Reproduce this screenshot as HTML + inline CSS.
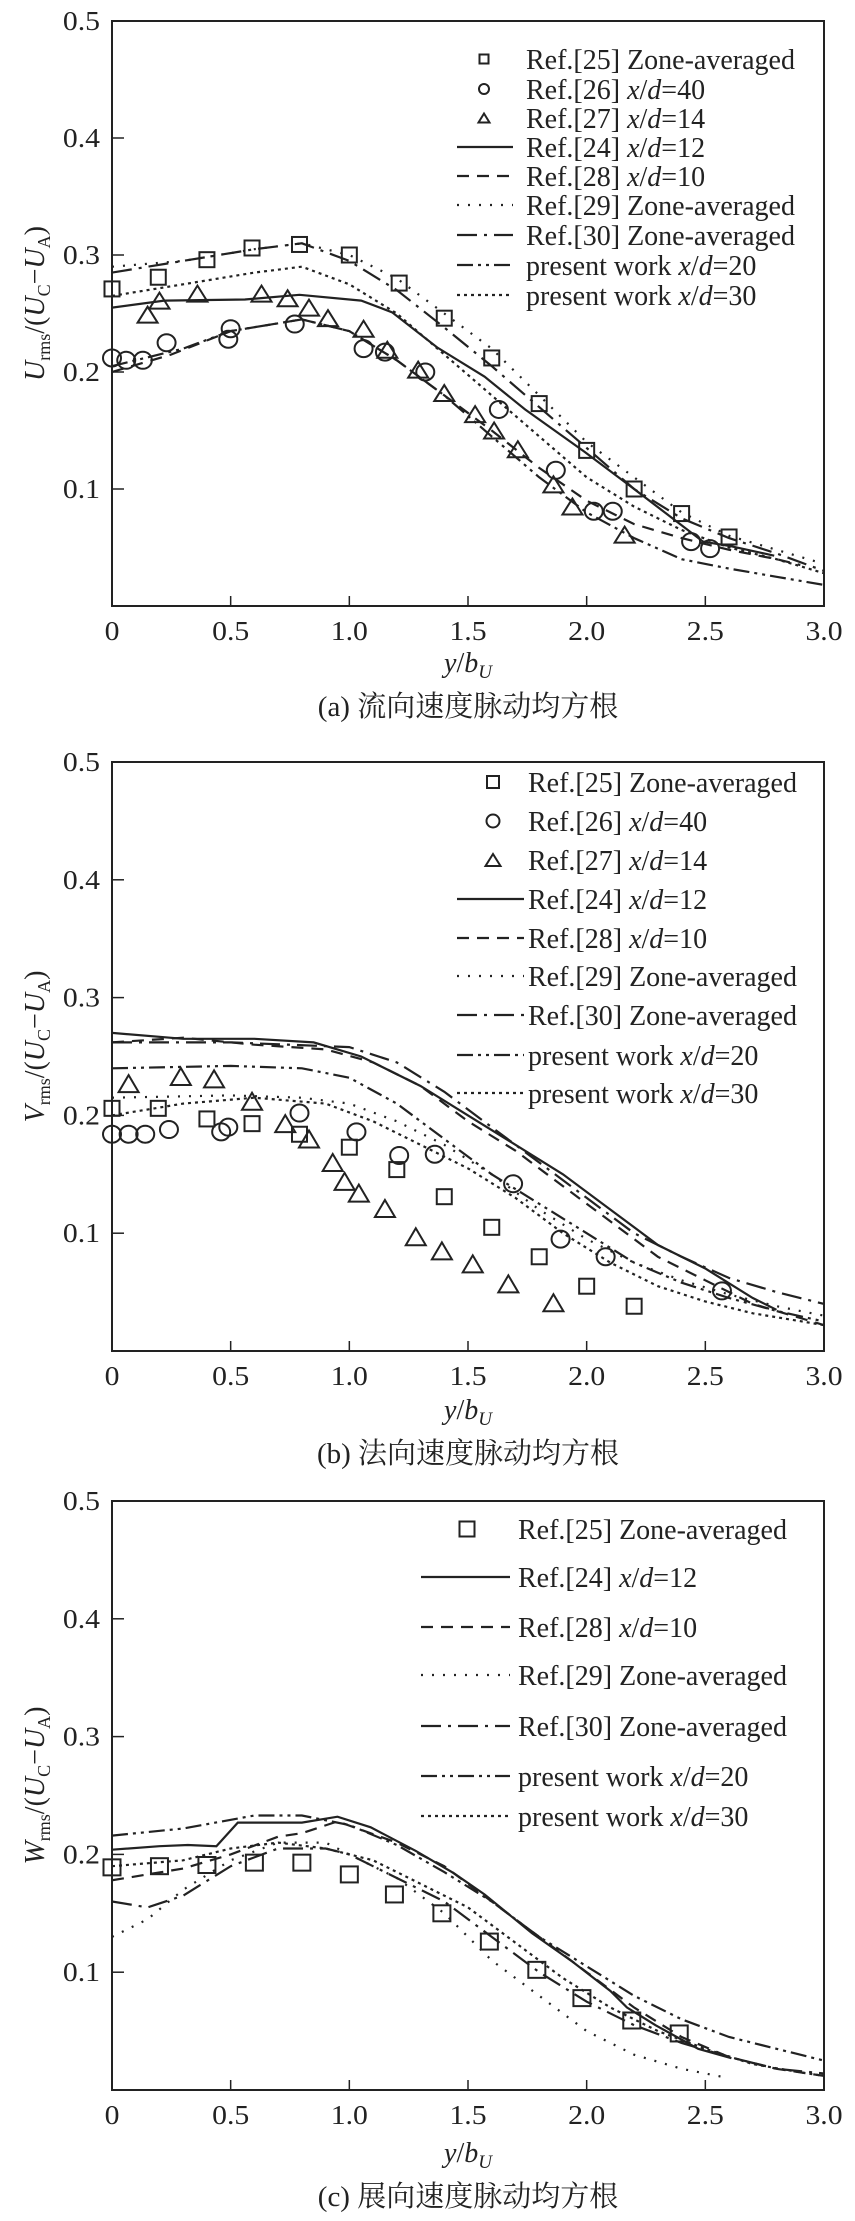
<!DOCTYPE html>
<html><head><meta charset="utf-8">
<style>
html,body{margin:0;padding:0;background:#fff;}
svg{display:block;font-family:"Liberation Serif","Noto Serif CJK SC","Noto Sans CJK SC",serif;}
</style></head>
<body>
<svg id="fig" xmlns="http://www.w3.org/2000/svg" width="855" height="2221" viewBox="0 0 855 2221"></svg>
<script>
// ---------- data: shared tick labels ----------
const xTickValues = [0, 0.5, 1.0, 1.5, 2.0, 2.5, 3.0];
const xTickLabels = ["0", "0.5", "1.0", "1.5", "2.0", "2.5", "3.0"];
const yTickValues = [0.1, 0.2, 0.3, 0.4, 0.5];
const yTickLabels = ["0.1", "0.2", "0.3", "0.4", "0.5"];

// ---------- panel (a) ----------
const aSqX = [0, 0.195, 0.40, 0.59, 0.79, 1.0, 1.21, 1.40, 1.60, 1.80, 2.0, 2.20, 2.40, 2.60];
const aSqY = [0.271, 0.281, 0.296, 0.306, 0.309, 0.300, 0.276, 0.246, 0.212, 0.173, 0.133, 0.100, 0.079, 0.059];
const aCiX = [0, 0.06, 0.13, 0.23, 0.49, 0.50, 0.77, 1.06, 1.15, 1.32, 1.63, 1.87, 2.03, 2.11, 2.44, 2.52];
const aCiY = [0.212, 0.210, 0.210, 0.225, 0.228, 0.237, 0.241, 0.220, 0.217, 0.200, 0.168, 0.116, 0.081, 0.081, 0.055, 0.049];
const aTrX = [0.15, 0.20, 0.36, 0.63, 0.74, 0.83, 0.91, 1.06, 1.16, 1.29, 1.40, 1.53, 1.61, 1.71, 1.86, 1.94, 2.16];
const aTrY = [0.249, 0.261, 0.267, 0.267, 0.263, 0.255, 0.246, 0.237, 0.219, 0.202, 0.182, 0.164, 0.150, 0.134, 0.104, 0.085, 0.061];
const aR24X = [0, 0.22, 0.56, 0.79, 1.05, 1.18, 1.37, 1.57, 1.74, 1.99, 2.2, 2.49, 2.61, 2.79];
const aR24Y = [0.255, 0.261, 0.262, 0.266, 0.261, 0.251, 0.221, 0.196, 0.168, 0.132, 0.100, 0.055, 0.051, 0.043];
const aR28X = [0, 0.25, 0.5, 0.8, 1.0, 1.2, 1.4, 1.6, 1.8, 2.0, 2.2, 2.4, 2.6, 2.8, 2.9];
const aR28Y = [0.200, 0.215, 0.235, 0.245, 0.235, 0.210, 0.180, 0.150, 0.118, 0.090, 0.070, 0.058, 0.048, 0.040, 0.035];
const aR29X = [0, 0.3, 0.6, 0.8, 1.0, 1.2, 1.4, 1.6, 1.8, 2.0, 2.2, 2.4, 2.6, 2.8, 3.0];
const aR29Y = [0.290, 0.295, 0.305, 0.310, 0.300, 0.280, 0.250, 0.220, 0.180, 0.140, 0.110, 0.080, 0.060, 0.048, 0.036];
const aR30X = [0, 0.3, 0.6, 0.8, 1.0, 1.2, 1.4, 1.6, 1.8, 2.0, 2.2, 2.4, 2.6, 2.8, 3.0];
const aR30Y = [0.285, 0.295, 0.305, 0.310, 0.295, 0.270, 0.238, 0.205, 0.170, 0.135, 0.100, 0.075, 0.058, 0.045, 0.030];
const aP20X = [0, 0.3, 0.5, 0.8, 1.0, 1.2, 1.4, 1.6, 1.8, 2.0, 2.2, 2.4, 2.6, 2.8, 3.0];
const aP20Y = [0.205, 0.220, 0.235, 0.245, 0.235, 0.210, 0.180, 0.145, 0.110, 0.080, 0.058, 0.040, 0.032, 0.025, 0.018];
const aP30X = [0, 0.3, 0.6, 0.8, 1.0, 1.2, 1.4, 1.6, 1.8, 2.0, 2.2, 2.4, 2.6, 2.8, 3.0];
const aP30Y = [0.265, 0.275, 0.285, 0.290, 0.275, 0.250, 0.215, 0.180, 0.145, 0.110, 0.085, 0.065, 0.050, 0.040, 0.028];

// ---------- panel (b) ----------
const bSqX = [0, 0.195, 0.40, 0.59, 0.79, 1.0, 1.2, 1.4, 1.6, 1.8, 2.0, 2.2];
const bSqY = [0.206, 0.206, 0.197, 0.193, 0.184, 0.173, 0.154, 0.131, 0.105, 0.080, 0.055, 0.038];
const bCiX = [0, 0.07, 0.14, 0.24, 0.46, 0.49, 0.79, 1.03, 1.21, 1.36, 1.69, 1.89, 2.08, 2.57];
const bCiY = [0.184, 0.184, 0.184, 0.188, 0.186, 0.190, 0.202, 0.186, 0.166, 0.167, 0.142, 0.095, 0.080, 0.051];
const bTrX = [0.07, 0.29, 0.43, 0.59, 0.73, 0.83, 0.93, 0.98, 1.04, 1.15, 1.28, 1.39, 1.52, 1.67, 1.86];
const bTrY = [0.227, 0.233, 0.231, 0.212, 0.193, 0.180, 0.160, 0.144, 0.134, 0.121, 0.097, 0.085, 0.074, 0.057, 0.041];
const bR24X = [0, 0.3, 0.6, 0.85, 1.05, 1.3, 1.5, 1.7, 1.9, 2.1, 2.3, 2.5, 2.7, 2.8];
const bR24Y = [0.270, 0.265, 0.265, 0.262, 0.250, 0.225, 0.200, 0.175, 0.150, 0.120, 0.090, 0.070, 0.045, 0.035];
const bR28X = [0, 0.3, 0.6, 0.9, 1.1, 1.3, 1.5, 1.7, 1.9, 2.1, 2.3, 2.5, 2.7, 2.9, 3.0];
const bR28Y = [0.262, 0.266, 0.260, 0.256, 0.245, 0.225, 0.195, 0.170, 0.140, 0.110, 0.080, 0.060, 0.040, 0.028, 0.022];
const bR29X = [0, 0.5, 0.8, 1.0, 1.2, 1.4, 1.6, 1.8, 2.0, 2.2, 2.4, 2.6, 2.8, 3.0];
const bR29Y = [0.215, 0.217, 0.215, 0.210, 0.195, 0.175, 0.150, 0.120, 0.095, 0.075, 0.060, 0.048, 0.038, 0.030];
const bR30X = [0, 0.5, 1.0, 1.2, 1.4, 1.6, 1.8, 2.0, 2.2, 2.4, 2.6, 2.8, 3.0];
const bR30Y = [0.262, 0.262, 0.258, 0.245, 0.220, 0.190, 0.160, 0.130, 0.100, 0.080, 0.062, 0.050, 0.040];
const bP20X = [0, 0.5, 0.8, 1.0, 1.2, 1.4, 1.6, 1.8, 2.0, 2.2, 2.4, 2.6, 2.8, 3.0];
const bP20Y = [0.240, 0.242, 0.240, 0.232, 0.210, 0.180, 0.150, 0.125, 0.100, 0.075, 0.058, 0.045, 0.034, 0.025];
const bP30X = [0, 0.3, 0.6, 0.9, 1.1, 1.3, 1.5, 1.7, 1.9, 2.1, 2.3, 2.5, 2.7, 3.0];
const bP30Y = [0.200, 0.210, 0.215, 0.210, 0.195, 0.175, 0.155, 0.130, 0.100, 0.075, 0.055, 0.042, 0.032, 0.022];

// ---------- panel (c) ----------
const cSqX = [0, 0.2, 0.4, 0.6, 0.8, 1.0, 1.19, 1.39, 1.59, 1.79, 1.98, 2.19, 2.39];
const cSqY = [0.189, 0.190, 0.191, 0.193, 0.193, 0.183, 0.166, 0.150, 0.126, 0.102, 0.078, 0.059, 0.048];
const cR24X = [0, 0.2, 0.32, 0.44, 0.53, 0.68, 0.8, 0.95, 1.09, 1.28, 1.44, 1.57, 1.77, 1.94, 2.1, 2.17, 2.29, 2.47, 2.61];
const cR24Y = [0.204, 0.207, 0.208, 0.207, 0.227, 0.227, 0.227, 0.232, 0.223, 0.203, 0.184, 0.166, 0.133, 0.109, 0.084, 0.070, 0.055, 0.035, 0.027];
const cR28X = [0, 0.3, 0.5, 0.7, 0.8, 0.95, 1.2, 1.4, 1.6, 1.8, 2.0, 2.2, 2.4, 2.6, 2.8, 3.0];
const cR28Y = [0.178, 0.188, 0.200, 0.215, 0.218, 0.228, 0.210, 0.190, 0.160, 0.130, 0.100, 0.070, 0.045, 0.028, 0.018, 0.012];
const cR29X = [0, 0.15, 0.3, 0.5, 0.7, 0.9, 1.0, 1.2, 1.4, 1.6, 1.8, 2.0, 2.2, 2.4, 2.6];
const cR29Y = [0.130, 0.145, 0.170, 0.195, 0.210, 0.210, 0.200, 0.180, 0.150, 0.110, 0.080, 0.050, 0.030, 0.018, 0.010];
const cR30X = [0, 0.15, 0.3, 0.5, 0.7, 0.9, 1.0, 1.2, 1.4, 1.6, 1.8, 2.0, 2.2, 2.4, 2.6, 2.8, 3.0];
const cR30Y = [0.160, 0.155, 0.165, 0.190, 0.205, 0.205, 0.200, 0.180, 0.160, 0.130, 0.100, 0.075, 0.055, 0.040, 0.028, 0.018, 0.014];
const cP20X = [0, 0.3, 0.6, 0.8, 1.0, 1.2, 1.4, 1.6, 1.8, 2.0, 2.2, 2.4, 2.6, 2.8, 3.0];
const cP20Y = [0.216, 0.222, 0.233, 0.233, 0.225, 0.208, 0.185, 0.160, 0.130, 0.105, 0.080, 0.060, 0.045, 0.035, 0.025];
const cP30X = [0, 0.3, 0.5, 0.7, 0.9, 1.1, 1.3, 1.5, 1.7, 1.9, 2.1, 2.3, 2.5, 2.7, 2.9, 3.0];
const cP30Y = [0.190, 0.195, 0.205, 0.210, 0.205, 0.195, 0.175, 0.155, 0.125, 0.095, 0.070, 0.050, 0.035, 0.022, 0.015, 0.012];

// ---------- rendering ----------
const NS = "http://www.w3.org/2000/svg";
const svg = document.getElementById("fig");
const LEFT = 112, RIGHT = 824, XMAX = 3.0, YMAX = 0.5;
const DASH = {solid: "", dashed: "12,8", dotted: "2,9", dashdot: "20,7,3,7", dashdotdot: "16,5,3,5,3,5", densedot: "3,4"};

function el(tag, attrs, parent) {
  const e = document.createElementNS(NS, tag);
  for (const k in attrs) e.setAttribute(k, attrs[k]);
  (parent || svg).appendChild(e);
  return e;
}
function xScale(v) { return LEFT + v / XMAX * (RIGHT - LEFT); }

function marker(g, type, cx, cy, w, h) {
  let m;
  if (type === "square") m = el("rect", {x: cx - w / 2, y: cy - h / 2, width: w, height: h, fill: "none", stroke: "#222", "stroke-width": 2}, g);
  else if (type === "circle") m = el("ellipse", {cx: cx, cy: cy, rx: w / 2, ry: h / 2, fill: "none", stroke: "#222", "stroke-width": 2}, g);
  else m = el("polygon", {points: (cx - w / 2) + "," + (cy + h / 2) + " " + (cx + w / 2) + "," + (cy + h / 2) + " " + cx + "," + (cy - h / 2), fill: "none", stroke: "#222", "stroke-width": 2}, g);
  return m;
}

function drawPanel(p) {
  const g = el("g", {});
  
  
  const yScale = v => p.bottom - v / YMAX * (p.bottom - p.top);
  const frame = el("rect", {x: LEFT, y: p.top, width: RIGHT - LEFT, height: p.bottom - p.top, fill: "none", stroke: "#222", "stroke-width": 2}, g);
  
  
  xTickValues.forEach((v, i) => {
    const x = xScale(v);
    if (i > 0 && i < xTickValues.length - 1) {
      const t = el("line", {x1: x, x2: x, y1: p.bottom, y2: p.bottom - 10, stroke: "#222", "stroke-width": 1.5}, g);
      
      
    }
    const lb = el("text", {transform: "translate(" + x + "," + (p.bottom + 34) + ") scale(1.1,1)", "font-size": 27, "text-anchor": "middle", fill: "#222"}, g);
    lb.textContent = xTickLabels[i];
    
    
  });
  yTickValues.forEach((v, i) => {
    const y = yScale(v);
    if (i < yTickValues.length - 1) {
      const t = el("line", {x1: LEFT, x2: LEFT + 12, y1: y, y2: y, stroke: "#222", "stroke-width": 1.5}, g);
      
      
    }
    const lb = el("text", {transform: "translate(100," + (y + 9) + ") scale(1.1,1)", "font-size": 27, "text-anchor": "end", fill: "#222"}, g);
    lb.textContent = yTickLabels[i];
    
    
  });
  const yc = (p.top + p.bottom) / 2 - 10;
  const yt = el("text", {transform: "translate(44," + yc + ") rotate(-90)", "font-size": 28, "text-anchor": "middle", fill: "#222"}, g);
  yt.innerHTML = '<tspan font-style="italic">' + p.sym + '</tspan><tspan font-size="18" dy="6">rms</tspan><tspan dy="-6">/(</tspan><tspan font-style="italic">U</tspan><tspan font-size="18" dy="6">C</tspan><tspan dy="-6">−</tspan><tspan font-style="italic">U</tspan><tspan font-size="18" dy="6">A</tspan><tspan dy="-6">)</tspan>';
  
  
  const xt = el("text", {transform: "translate(468," + (p.bottom + p.titleOff) + ")", "font-size": 28, "text-anchor": "middle", fill: "#222"}, g);
  xt.innerHTML = '<tspan font-style="italic">y</tspan>/<tspan font-style="italic">b</tspan><tspan font-style="italic" font-size="19" dy="6">U</tspan>';
  
  
  const cap = el("text", {x: 468, y: p.bottom + p.capOff, "font-size": 29, "text-anchor": "middle", fill: "#222"}, g);
  cap.textContent = p.caption;
  
  
  const clip = el("clipPath", {id: "clip-" + p.key}, g);
  el("rect", {x: LEFT, y: p.top, width: RIGHT - LEFT, height: p.bottom - p.top}, clip);
  p.lines.forEach(s => {
    const d = s.x.map((v, i) => (i ? "L" : "M") + xScale(v).toFixed(1) + "," + yScale(s.y[i]).toFixed(1)).join(" ");
    const path = el("path", {d: d, fill: "none", stroke: "#222", "stroke-width": 2.2, "stroke-dasharray": DASH[s.style], "clip-path": "url(#clip-" + p.key + ")"}, g);
    
    
  });
  p.points.forEach(s => {
    s.x.forEach((v, i) => {
      const m = marker(g, s.type, xScale(v), yScale(s.y[i]), s.w, s.h);
      
      
    });
  });
  p.legend.forEach((L, i) => {
    const y = p.legY[i];
    if (L.type) {
      const m = marker(g, L.type, p.legSym, y, L.w, L.h);
      
      
    } else {
      const ln = el("line", {x1: p.legL0, x2: p.legL1, y1: y, y2: y, stroke: "#222", "stroke-width": 2.2, "stroke-dasharray": DASH[L.style]}, g);
      
      
    }
    const t = el("text", {x: p.legText, y: y + 10, "font-size": 28, fill: "#222"}, g);
    t.innerHTML = L.label;
    
    
  });
}

const XD = function (n) { return 'Ref.[' + n[0] + '] <tspan font-style="italic">x</tspan>/<tspan font-style="italic">d</tspan>=' + n[1]; };
const PW = function (n) { return 'present work <tspan font-style="italic">x</tspan>/<tspan font-style="italic">d</tspan>=' + n; };

drawPanel({
  key: "a", top: 21, bottom: 606, titleOff: 66, capOff: 110, sym: "U", caption: "(a) 流向速度脉动均方根",
  lines: [
    {name: "ref24", style: "solid", x: aR24X, y: aR24Y},
    {name: "ref28", style: "dashed", x: aR28X, y: aR28Y},
    {name: "ref29", style: "dotted", x: aR29X, y: aR29Y},
    {name: "ref30", style: "dashdot", x: aR30X, y: aR30Y},
    {name: "present20", style: "dashdotdot", x: aP20X, y: aP20Y},
    {name: "present30", style: "densedot", x: aP30X, y: aP30Y}],
  points: [
    {name: "ref25", type: "square", x: aSqX, y: aSqY, w: 15, h: 15},
    {name: "ref26", type: "circle", x: aCiX, y: aCiY, w: 18, h: 17},
    {name: "ref27", type: "triangle", x: aTrX, y: aTrY, w: 20, h: 16}],
  legY: [59, 89, 118, 147, 176, 205, 235, 265, 295],
  legSym: 484, legL0: 457, legL1: 513, legText: 526,
  legend: [
    {type: "square", w: 9, h: 9, label: "Ref.[25] Zone-averaged"},
    {type: "circle", w: 10, h: 10, label: XD([26, 40])},
    {type: "triangle", w: 11, h: 9, label: XD([27, 14])},
    {style: "solid", label: XD([24, 12])},
    {style: "dashed", label: XD([28, 10])},
    {style: "dotted", label: "Ref.[29] Zone-averaged"},
    {style: "dashdot", label: "Ref.[30] Zone-averaged"},
    {style: "dashdotdot", label: PW(20)},
    {style: "densedot", label: PW(30)}]
});

drawPanel({
  key: "b", top: 762, bottom: 1351, titleOff: 68, capOff: 112, sym: "V", caption: "(b) 法向速度脉动均方根",
  lines: [
    {name: "ref24", style: "solid", x: bR24X, y: bR24Y},
    {name: "ref28", style: "dashed", x: bR28X, y: bR28Y},
    {name: "ref29", style: "dotted", x: bR29X, y: bR29Y},
    {name: "ref30", style: "dashdot", x: bR30X, y: bR30Y},
    {name: "present20", style: "dashdotdot", x: bP20X, y: bP20Y},
    {name: "present30", style: "densedot", x: bP30X, y: bP30Y}],
  points: [
    {name: "ref25", type: "square", x: bSqX, y: bSqY, w: 15, h: 15},
    {name: "ref26", type: "circle", x: bCiX, y: bCiY, w: 18, h: 17},
    {name: "ref27", type: "triangle", x: bTrX, y: bTrY, w: 20, h: 17}],
  legY: [782, 821, 860, 899, 938, 976, 1015, 1055, 1093],
  legSym: 493, legL0: 457, legL1: 524, legText: 528,
  legend: [
    {type: "square", w: 12, h: 12, label: "Ref.[25] Zone-averaged"},
    {type: "circle", w: 13, h: 13, label: XD([26, 40])},
    {type: "triangle", w: 15, h: 12, label: XD([27, 14])},
    {style: "solid", label: XD([24, 12])},
    {style: "dashed", label: XD([28, 10])},
    {style: "dotted", label: "Ref.[29] Zone-averaged"},
    {style: "dashdot", label: "Ref.[30] Zone-averaged"},
    {style: "dashdotdot", label: PW(20)},
    {style: "densedot", label: PW(30)}]
});

drawPanel({
  key: "c", top: 1501, bottom: 2090, titleOff: 72, capOff: 116, sym: "W", caption: "(c) 展向速度脉动均方根",
  lines: [
    {name: "ref24", style: "solid", x: cR24X, y: cR24Y},
    {name: "ref28", style: "dashed", x: cR28X, y: cR28Y},
    {name: "ref29", style: "dotted", x: cR29X, y: cR29Y},
    {name: "ref30", style: "dashdot", x: cR30X, y: cR30Y},
    {name: "present20", style: "dashdotdot", x: cP20X, y: cP20Y},
    {name: "present30", style: "densedot", x: cP30X, y: cP30Y}],
  points: [
    {name: "ref25", type: "square", x: cSqX, y: cSqY, w: 17, h: 16}],
  legY: [1529, 1577, 1627, 1675, 1726, 1776, 1816],
  legSym: 467, legL0: 421, legL1: 510, legText: 518,
  legend: [
    {type: "square", w: 15, h: 15, label: "Ref.[25] Zone-averaged"},
    {style: "solid", label: XD([24, 12])},
    {style: "dashed", label: XD([28, 10])},
    {style: "dotted", label: "Ref.[29] Zone-averaged"},
    {style: "dashdot", label: "Ref.[30] Zone-averaged"},
    {style: "dashdotdot", label: PW(20)},
    {style: "densedot", label: PW(30)}]
});
</script>
</body></html>
